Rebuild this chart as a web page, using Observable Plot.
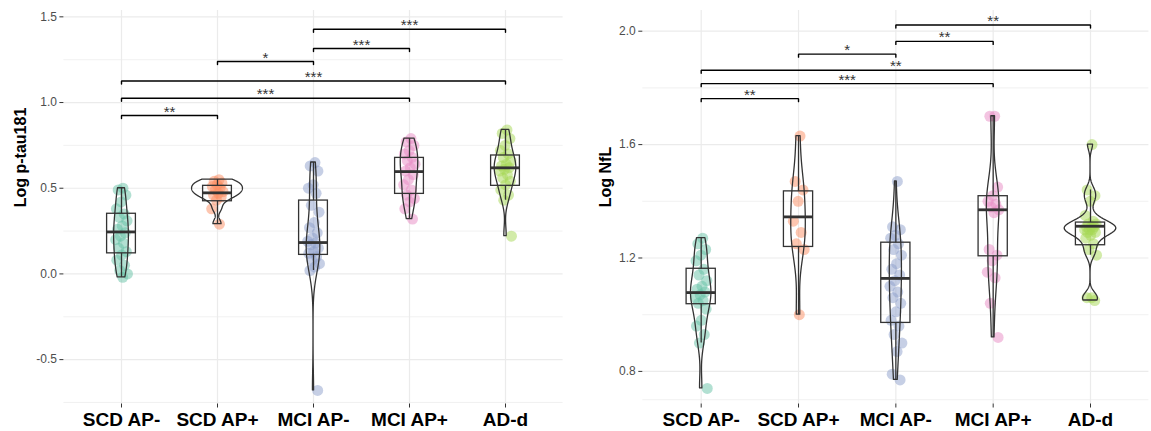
<!DOCTYPE html>
<html><head><meta charset="utf-8">
<script src="https://cdn.jsdelivr.net/npm/d3@7"></script>
<script src="https://cdn.jsdelivr.net/npm/@observablehq/plot@0.6"></script>
<style>
body{margin:0;background:#fff;}
#wrap{display:flex;width:1151px;height:431px;overflow:hidden;}
svg{display:block}
</style>
</head><body><div id="wrap"></div>
<script>
// ---------- categories & colours ----------
const groups = ["SCD AP-", "SCD AP+", "MCI AP-", "MCI AP+", "AD-d"];
const colors = ["#66C2A5", "#FC8D62", "#8DA0CB", "#E78AC3", "#A6D854"];

// ---------- Log p-tau181 : individual values ----------
const ptauScdNeg = [0.50, 0.49, 0.46, 0.42, 0.38, 0.35, 0.33, 0.31, 0.28, 0.26, 0.24, 0.22, 0.20, 0.18, 0.15, 0.13, 0.11, 0.08, 0.05, 0.02, 0.00, -0.02];
const ptauScdPos = [0.55, 0.54, 0.53, 0.52, 0.51, 0.50, 0.49, 0.48, 0.47, 0.46, 0.45, 0.43, 0.38, 0.29];
const ptauMciNeg = [0.65, 0.63, 0.60, 0.52, 0.50, 0.47, 0.40, 0.36, 0.30, 0.27, 0.24, 0.21, 0.19, 0.18, 0.17, 0.15, 0.13, 0.12, 0.10, 0.08, 0.06, 0.04, 0.02, -0.68];
const ptauMciPos = [0.79, 0.77, 0.75, 0.72, 0.70, 0.68, 0.66, 0.64, 0.62, 0.60, 0.58, 0.55, 0.52, 0.49, 0.46, 0.44, 0.42, 0.38, 0.32];
const ptauAdd    = [0.84, 0.82, 0.79, 0.75, 0.72, 0.70, 0.68, 0.66, 0.64, 0.63, 0.62, 0.61, 0.60, 0.58, 0.56, 0.54, 0.52, 0.49, 0.46, 0.43, 0.22];
// box statistics
const ptauWhiskLo = [-0.02, 0.29, 0.02, 0.32, 0.43];
const ptauQ1      = [0.12, 0.424, 0.111, 0.467, 0.514];
const ptauMedian  = [0.245, 0.473, 0.183, 0.597, 0.619];
const ptauQ3      = [0.351, 0.514, 0.428, 0.677, 0.691];
const ptauWhiskHi = [0.50, 0.55, 0.65, 0.79, 0.84];
// significance brackets
const ptauBrFrom  = [0, 0, 0, 1, 2, 2];
const ptauBrTo    = [1, 3, 4, 2, 3, 4];
const ptauBrY     = [0.924, 1.025, 1.126, 1.239, 1.315, 1.428];
const ptauBrLabel = ["**", "***", "***", "*", "***", "***"];
const ptauTicks   = [-0.5, 0.0, 0.5, 1.0, 1.5];
const ptauMinor   = [-0.75, -0.25, 0.25, 0.75, 1.25];

// ---------- Log NfL : individual values ----------
const nflScdNeg = [1.27, 1.25, 1.23, 1.21, 1.19, 1.16, 1.14, 1.12, 1.10, 1.09, 1.08, 1.07, 1.06, 1.05, 1.04, 1.02, 0.98, 0.96, 0.93, 0.90, 0.74];
const nflScdPos = [1.63, 1.47, 1.44, 1.40, 1.33, 1.29, 1.25, 1.23, 1.00];
const nflMciNeg = [1.47, 1.31, 1.30, 1.28, 1.27, 1.25, 1.23, 1.21, 1.18, 1.16, 1.14, 1.12, 1.10, 1.08, 1.06, 1.04, 1.01, 0.98, 0.96, 0.93, 0.90, 0.87, 0.79, 0.77];
const nflMciPos = [1.70, 1.70, 1.45, 1.42, 1.40, 1.39, 1.38, 1.37, 1.36, 1.23, 1.21, 1.19, 1.15, 1.13, 1.04, 0.92];
const nflAdd    = [1.60, 1.44, 1.42, 1.40, 1.35, 1.33, 1.32, 1.32, 1.31, 1.31, 1.31, 1.30, 1.30, 1.30, 1.29, 1.29, 1.28, 1.27, 1.25, 1.23, 1.21, 1.06, 1.06, 1.05];
const nflWhiskLo = [0.90, 1.00, 0.77, 0.92, 1.21];
const nflQ1      = [1.037, 1.239, 0.971, 1.206, 1.245];
const nflMedian  = [1.078, 1.345, 1.128, 1.370, 1.312];
const nflQ3      = [1.162, 1.435, 1.254, 1.418, 1.325];
const nflWhiskHi = [1.27, 1.63, 1.47, 1.70, 1.44];
const nflBrFrom  = [0, 0, 0, 1, 2, 2];
const nflBrTo    = [1, 3, 4, 2, 3, 4];
const nflBrY     = [1.762, 1.815, 1.862, 1.919, 1.964, 2.022];
const nflBrLabel = ["**", "***", "**", "*", "**", "**"];
const nflTicks   = [0.8, 1.2, 1.6, 2.0];
const nflMinor   = [0.7, 1.0, 1.4, 1.8];

// ---------- helpers ----------
function nrd0(v) {
  const s = d3.deviation(v);
  const sorted = v.slice().sort(d3.ascending);
  const iqr = d3.quantile(sorted, 0.75) - d3.quantile(sorted, 0.25);
  let lo = Math.min(s, iqr / 1.34);
  if (!(lo > 0)) lo = s || 1;
  return 0.9 * lo * Math.pow(v.length, -0.2);
}
function kde(v, n = 256) {
  const bw = nrd0(v), lo = d3.min(v), hi = d3.max(v);
  return d3.range(n).map(k => {
    const y = lo + (hi - lo) * k / (n - 1);
    const d = d3.mean(v, x => Math.exp(-0.5 * ((y - x) / bw) ** 2)) / (bw * Math.sqrt(2 * Math.PI));
    return {y, d};
  });
}
const jitter = k => (((k + 1) * 0.618034) % 1 - 0.5) * 0.13;
const font = "'Liberation Sans', Arial, Helvetica, sans-serif";

function panel(o) {
  const pts = [];
  o.series.forEach((vals, g) => vals.forEach((v, k) => pts.push({g, x: g + jitter(k), v})));
  const dens = o.series.map(vals => kde(vals));
  const maxD = d3.max(dens.flat(), d => d.d);
  const vio = [];
  dens.forEach((arr, g) => arr.forEach(p => vio.push({g, y: p.y, w: 0.265 * p.d / maxD})));
  const idx = d3.range(groups.length);
  const tip = o.tipPx / o.pxPerUnit;
  const brLines = [];
  o.brFrom.forEach((a, i) => {
    const b = o.brTo[i], h = o.brY[i];
    brLines.push({i, x: a, y: h - tip}, {i, x: a, y: h}, {i, x: b, y: h}, {i, x: b, y: h - tip});
  });
  const brText = o.brFrom.map((a, i) => ({x: (a + o.brTo[i]) / 2, y: o.brY[i], t: o.brLabel[i]}));

  return Plot.plot({
    width: o.width, height: 431,
    marginTop: 10, marginBottom: 27.5,
    marginLeft: o.ml, marginRight: o.mr,
    style: {fontFamily: font, background: "#fff"},
    x: {domain: [-0.6, 4.6]},
    y: {domain: o.domain},
    marks: [
      Plot.gridY(o.minor, {stroke: "#EBEBEB", strokeOpacity: 1, strokeWidth: 0.7}),
      Plot.gridY(o.ticks, {stroke: "#EBEBEB", strokeOpacity: 1, strokeWidth: 1.2}),
      Plot.gridX(idx, {stroke: "#EBEBEB", strokeOpacity: 1, strokeWidth: 1.2}),
      Plot.dot(pts, {x: "x", y: "v", r: 5.5, fill: d => colors[d.g], fillOpacity: 0.5, stroke: "none"}),
      Plot.areaX(vio, {y: "y", x1: d => d.g - d.w, x2: d => d.g + d.w, z: "g", fill: "none", stroke: "#333", strokeWidth: 1.3, curve: "linear"}),
      Plot.ruleX(idx, {x: d => d, y1: d => o.wLo[d], y2: d => o.q1[d], stroke: "#333", strokeWidth: 1.3}),
      Plot.ruleX(idx, {x: d => d, y1: d => o.q3[d], y2: d => o.wHi[d], stroke: "#333", strokeWidth: 1.3}),
      Plot.rect(idx, {x1: d => d - 0.15, x2: d => d + 0.15, y1: d => o.q1[d], y2: d => o.q3[d], fill: "none", stroke: "#333", strokeWidth: 1.3}),
      Plot.ruleY(idx, {y: d => o.med[d], x1: d => d - 0.15, x2: d => d + 0.15, stroke: "#333", strokeWidth: 2.8}),
      Plot.line(brLines, {x: "x", y: "y", z: "i", stroke: "#000", strokeWidth: 1.4, curve: "linear", strokeLinejoin: "miter"}),
      Plot.text(brText, {x: "x", y: "y", text: "t", lineAnchor: "bottom", dy: 1, fontSize: 15, fill: "#333"}),
      Plot.axisY(o.ticks, {tickFormat: d => d.toFixed(1), fontSize: 12, fill: "#4D4D4D", stroke: "#333", tickSize: 4, tickPadding: 3, label: null}),
      Plot.axisX(idx, {tickFormat: d => groups[d], fontSize: 19, fontWeight: "bold", fill: "#000", stroke: "#333", tickSize: 4, tickPadding: 4.5, label: null}),
      Plot.text([o.title], {frameAnchor: "left", text: d => d, rotate: -90, dx: o.titleDx, fontSize: 16, fontWeight: "bold", fill: "#000"})
    ]
  });
}

const wrap = document.getElementById("wrap");
wrap.appendChild(panel({
  width: 575, ml: 63.4, mr: 12.4, domain: [-0.759, 1.537],
  series: [ptauScdNeg, ptauScdPos, ptauMciNeg, ptauMciPos, ptauAdd],
  wLo: ptauWhiskLo, q1: ptauQ1, med: ptauMedian, q3: ptauQ3, wHi: ptauWhiskHi,
  brFrom: ptauBrFrom, brTo: ptauBrTo, brY: ptauBrY, brLabel: ptauBrLabel,
  ticks: ptauTicks, minor: ptauMinor, tipPx: 3, pxPerUnit: 171.4,
  title: "Log p-tau181", titleDx: -43
}));
wrap.appendChild(panel({
  width: 576, ml: 67.3, mr: 2.6, domain: [0.685, 2.073],
  series: [nflScdNeg, nflScdPos, nflMciNeg, nflMciPos, nflAdd],
  wLo: nflWhiskLo, q1: nflQ1, med: nflMedian, q3: nflQ3, wHi: nflWhiskHi,
  brFrom: nflBrFrom, brTo: nflBrTo, brY: nflBrY, brLabel: nflBrLabel,
  ticks: nflTicks, minor: nflMinor, tipPx: 3, pxPerUnit: 283.5,
  title: "Log NfL", titleDx: -37
}));
</script>
</body></html>
